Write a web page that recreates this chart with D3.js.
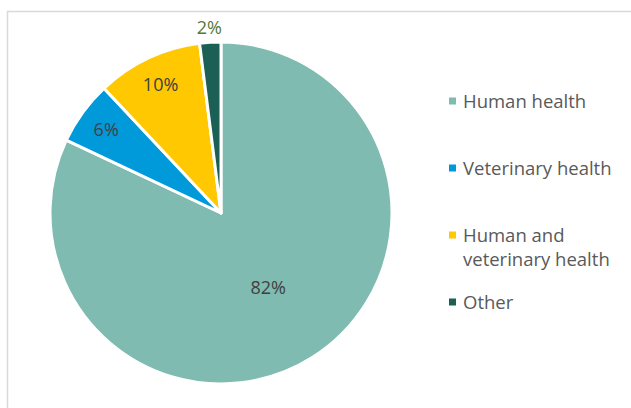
<!DOCTYPE html>
<html>
<head>
<meta charset="utf-8">
<script src="https://cdn.jsdelivr.net/npm/d3@7"></script>
<style>
  html, body { margin: 0; padding: 0; background: #fff; }
  svg { display: block; }
  text { font-family: "Open Sans", Lato, sans-serif; }
</style>
</head>
<body>
<svg id="chart" width="631" height="408"></svg>
<script>
// Share of items by field of application
const categories = ["Human health", "Veterinary health", "Human and veterinary health", "Other"];
const shares = [82, 6, 10, 2];
const legendLines = [["Human health"], ["Veterinary health"], ["Human and", "veterinary health"], ["Other"]];
const colors = ["#7fbbb1", "#0099d9", "#ffc800", "#1b5f55"];

const svg = d3.select("#chart");
const W = 631, H = 408;

// Chart frame
svg.append("rect")
  .attr("x", 7.5).attr("y", 11.5)
  .attr("width", W + 10).attr("height", H + 10)
  .attr("fill", "#fff")
  .attr("stroke", "#d9d9d9")
  .attr("stroke-width", 1.5);

const cx = 221, cy = 213, r = 171;

const pie = d3.pie().value(d => d).sort(null);
const arcs = pie(shares);
const arc = d3.arc().innerRadius(0).outerRadius(r);

const g = svg.append("g").attr("transform", `translate(${cx},${cy})`);

g.selectAll("path.slice")
  .data(arcs)
  .join("path")
  .attr("class", "slice")
  .attr("d", arc)
  .attr("fill", (d, i) => colors[i])
  .attr("stroke", "#fff")
  .attr("stroke-width", 3)
  .attr("stroke-linejoin", "round");

// Label placement: big slices near the middle, small ones near the rim, tiny ones outside
function labelRadius(d) {
  const frac = d.value / d3.sum(shares);
  if (frac > 0.5) return r * 0.515;
  if (frac >= 0.05) return r * 0.83;
  return r * 1.085;
}

g.selectAll("text.val")
  .data(arcs)
  .join("text")
  .attr("class", "val")
  .attr("transform", d => {
    const a = (d.startAngle + d.endAngle) / 2;
    const rr = labelRadius(d);
    return `translate(${rr * Math.sin(a)},${-rr * Math.cos(a)})`;
  })
  .attr("text-anchor", "middle")
  .attr("dy", "0.36em")
  .attr("font-size", 18)
  .attr("fill", d => (d.value / d3.sum(shares) < 0.05) ? "#54783a" : "#404040")
  .text(d => d.value + "%");

// Legend
const legendY = [101, 168, 235, 302];
const legend = svg.append("g");
categories.forEach((c, i) => {
  const item = legend.append("g").attr("transform", `translate(449,${legendY[i]})`);
  item.append("rect")
    .attr("x", 0).attr("y", -3.5)
    .attr("width", 7).attr("height", 7)
    .attr("fill", colors[i]);
  const t = item.append("text")
    .attr("x", 14)
    .attr("y", 0)
    .attr("font-size", 18.5)
    .attr("fill", "#595959");
  legendLines[i].forEach((line, j) => {
    t.append("tspan")
      .attr("x", 14)
      .attr("dy", j === 0 ? "0.36em" : "1.3em")
      .text(line);
  });
});
</script>
</body>
</html>
